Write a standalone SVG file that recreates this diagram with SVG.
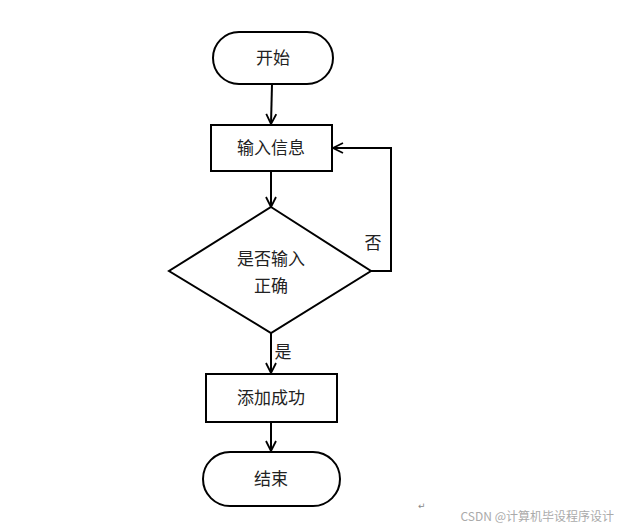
<svg xmlns="http://www.w3.org/2000/svg" width="620" height="527" viewBox="0 0 620 527">
<style>
.shape{fill:#fff;stroke:#000;stroke-width:2}
.t{font-family:"Noto Sans CJK SC",sans-serif;font-size:17px;fill:#222;text-anchor:middle}
.line{fill:none;stroke:#000;stroke-width:2}
</style>
<defs>
<marker id="arr" viewBox="0 0 12 12" refX="11" refY="6" markerWidth="12" markerHeight="12" markerUnits="userSpaceOnUse" orient="auto">
<polyline points="1,1 11,6 1,11" fill="none" stroke="#000" stroke-width="1.8"/>
</marker>
</defs>
<rect width="620" height="527" fill="#fff"/>
<g id="connectors">
<line class="line" x1="272" y1="84" x2="271" y2="124" marker-end="url(#arr)"/>
<line class="line" x1="271" y1="171" x2="271" y2="207" marker-end="url(#arr)"/>
<polyline class="line" points="371,271 391,271 391,148 333,148" marker-end="url(#arr)"/>
<line class="line" x1="271" y1="333" x2="271" y2="373" marker-end="url(#arr)"/>
<line class="line" x1="271" y1="422" x2="271" y2="451" marker-end="url(#arr)"/>
<text class="t" x="373" y="249">否</text>
<text class="t" x="283" y="358">是</text>
</g>
<g id="start">
<rect class="shape" x="213" y="32" width="120" height="52" rx="26"/>
<text class="t" x="273" y="64">开始</text>
</g>
<g id="input">
<rect class="shape" x="211" y="125" width="121" height="46"/>
<text class="t" x="271" y="154">输入信息</text>
</g>
<g id="check">
<polygon class="shape" points="271,207 371,271 271,333 169,271"/>
<text class="t" x="271" y="265">是否输入</text>
<text class="t" x="271" y="292">正确</text>
</g>
<g id="success">
<rect class="shape" x="206" y="374" width="131" height="48"/>
<text class="t" x="271" y="404">添加成功</text>
</g>
<g id="end">
<rect class="shape" x="203" y="452" width="137" height="54" rx="27"/>
<text class="t" x="271" y="485">结束</text>
</g>
<text x="418" y="509" font-family="DejaVu Sans,sans-serif" font-size="9" fill="#888">↵</text>
<text x="614" y="521" font-family="Noto Sans CJK SC,sans-serif" font-size="12" fill="#aaa" text-anchor="end">CSDN @计算机毕设程序设计</text>
</svg>
